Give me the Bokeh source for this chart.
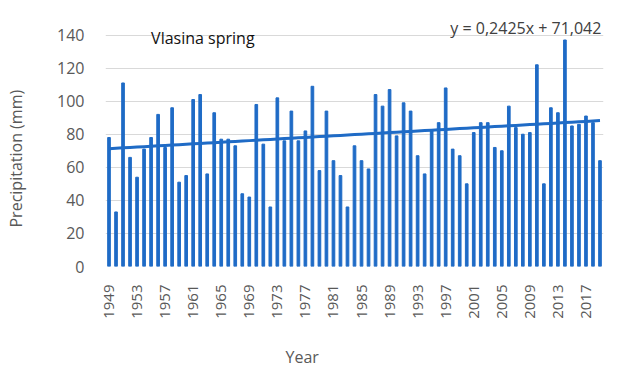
from bokeh.plotting import figure
from bokeh.models import FixedTicker, Label, Range1d, ColumnDataSource, Title
from bokeh.embed import file_html
from bokeh.resources import INLINE

years = list(range(1949, 2020))
precip = [78, 33, 111, 66, 54, 71, 78, 92, 72, 96, 51, 55, 101, 104, 56, 93, 77, 77, 73, 44,
          42, 98, 74, 36, 102, 76, 94, 76, 82, 109, 58, 94, 64, 55, 36, 73, 64, 59, 104, 97,
          107, 79, 99, 94, 67, 56, 82, 87, 108, 71, 67, 50, 81, 87, 87, 72, 70, 97, 84, 80,
          81, 122, 50, 96, 93, 137, 85, 86, 91, 87, 64]
x_ticks = list(range(1949, 2018, 4))
y_ticks = [0, 20, 40, 60, 80, 100, 120, 140]
slope = 0.2425
intercept = 71.042
trend = [slope * (i + 1) + intercept for i in range(len(years))]

BLUE = "#1F6BC6"
FONT = "Open Sans"

p = figure(width=622, height=367, output_backend="svg", toolbar_location=None,
           x_range=Range1d(1948.5, 2019.5), y_range=Range1d(0, 150),
           min_border_left=103, min_border_right=19, min_border_top=18, min_border_bottom=98)
p.outline_line_color = None
p.background_fill_color = "white"

src = ColumnDataSource(dict(x=years, top=precip))
p.vbar(x="x", top="top", width=0.38, bottom=0, source=src, color=BLUE)
p.line(years, trend, line_color=BLUE, line_width=3)

p.xaxis.ticker = FixedTicker(ticks=x_ticks)
p.yaxis.ticker = FixedTicker(ticks=y_ticks)
p.xgrid.grid_line_color = None
p.ygrid.grid_line_color = "#D9D9D9"
p.ygrid.grid_line_width = 1
for ax in (p.xaxis, p.yaxis):
    ax.axis_line_color = None
    ax.major_tick_line_color = None
    ax.minor_tick_line_color = None
    ax.major_label_text_font = FONT
    ax.major_label_text_color = "#595959"
p.xaxis.major_label_text_font_size = "15px"
p.yaxis.major_label_text_font_size = "16px"
p.xaxis.major_label_orientation = 1.5708
p.xaxis.major_label_standoff = 12
p.yaxis.major_label_standoff = 15

p.add_layout(Label(x=1955.0, y=138, text="Vlasina spring", text_font=FONT,
                   text_font_size="16px", text_color="#111111",
                   text_baseline="middle", text_align="left"))
p.add_layout(Label(x=2019.2, y=144, text="y = 0,2425x + 71,042", text_font=FONT,
                   text_font_size="16px", text_color="#404040",
                   text_baseline="middle", text_align="right"))

p.add_layout(Title(text="\nYear", align="left", offset=180, standoff=0, vertical_align="bottom",
                   text_font=FONT, text_font_size="16px", text_color="#595959",
                   text_font_style="normal"), "below")
p.add_layout(Title(text="Precipitation (mm)\n", align="left", offset=39, standoff=8,
                   vertical_align="top",
                   text_font=FONT, text_font_size="16px", text_color="#595959",
                   text_font_style="normal"), "left")

open("out.html", "w").write(file_html(p, INLINE))
